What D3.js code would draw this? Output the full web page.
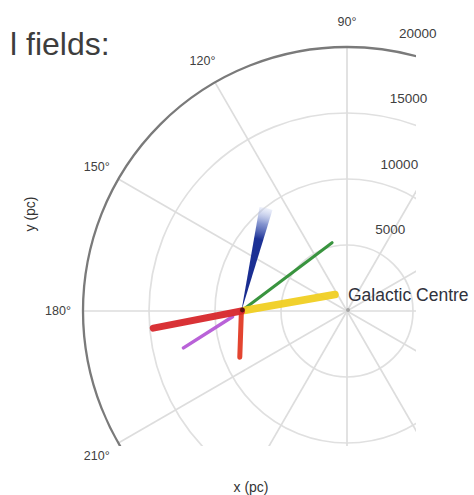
<!DOCTYPE html>
<html>
<head>
<meta charset="utf-8">
<script src="https://cdn.jsdelivr.net/npm/d3@7"></script>
<style>
  body { margin: 0; background: #fff; }
  svg { display: block; }
  text { font-family: "Liberation Sans", Arial, sans-serif; }
</style>
</head>
<body>
<svg id="chart" width="474" height="495"></svg>
<script>
// ---- data -------------------------------------------------------------
// galactocentric polar grid (degrees, parsec)
const angleTicks  = [0, 30, 60, 90, 120, 150, 180, 210, 240, 270, 300, 330];
const angleLabels = [90, 120, 150, 180, 210];
const radiusTicks = [5000, 10000, 15000, 20000];
const radiusMax   = 20000;
const sunX        = -8000;            // Sun position on the x axis (pc)

// lines of sight, measured from the Sun
const fieldIds       = ["F1", "F2", "F3", "F4", "F5", "F6"];
const fieldLongitude = [10, 37, 212.5, 268, 191, 76.5];     // deg
const fieldNear      = [200, 0, 800, 0, 0, 0];              // pc
const fieldFar       = [7200, 8600, 5200, 3500, 6800, 8000]; // pc
const fieldSpread    = [0, 0, 0, 0, 0, 3.6];                // half-width, deg

// ---- styles -----------------------------------------------------------
const fieldColor  = ["#f1cf22", "#2f8f35", "#b65ad6", "#e23b25", "#d8282c", "#172a8e"];
const fieldStroke = [7.5, 3, 3.5, 5, 7, 0];

// ---- layout -----------------------------------------------------------
const cx = 347, cy = 311;
const r = d3.scaleLinear().domain([0, radiusMax]).range([0, 264]);
const rad = d => d * Math.PI / 180;
const polar = (deg, pc) => [cx + r(pc) * Math.cos(rad(deg)), cy - r(pc) * Math.sin(rad(deg))];
const sunPx = [cx + r(sunX), cy];
const fromSun = (deg, pc) => [sunPx[0] + r(pc) * Math.cos(rad(deg)), sunPx[1] - r(pc) * Math.sin(rad(deg))];

const svg = d3.select("#chart");
const defs = svg.append("defs");
defs.append("clipPath").attr("id", "plotClip")
  .append("rect").attr("x", 0).attr("y", 0).attr("width", 416).attr("height", 446);

const plot = svg.append("g").attr("clip-path", "url(#plotClip)");

// grid circles
plot.selectAll("circle.grid")
  .data(radiusTicks.filter(d => d < radiusMax))
  .join("circle")
  .attr("class", "grid")
  .attr("cx", cx).attr("cy", cy)
  .attr("r", d => r(d))
  .attr("fill", "none")
  .attr("stroke", "#e0e0e0")
  .attr("stroke-width", 1.7);

// radial spokes
plot.selectAll("line.spoke")
  .data(angleTicks)
  .join("line")
  .attr("class", "spoke")
  .attr("x1", cx).attr("y1", cy)
  .attr("x2", d => polar(d, radiusMax)[0])
  .attr("y2", d => polar(d, radiusMax)[1])
  .attr("stroke", "#dddddd")
  .attr("stroke-width", 1.7);

// outer frame
plot.append("circle")
  .attr("cx", cx).attr("cy", cy).attr("r", r(radiusMax))
  .attr("fill", "none")
  .attr("stroke", "#7a7a7a")
  .attr("stroke-width", 2.3);

// galactic centre marker
plot.append("circle")
  .attr("cx", cx + 1).attr("cy", cy - 1).attr("r", 2)
  .attr("fill", "#a5a5a5");

// fields drawn as lines (the spread one as a fading wedge)
const lineFields = d3.range(fieldIds.length).filter(i => fieldSpread[i] === 0);
const order = [1, 0, 2, 3, 4];
plot.selectAll("line.field")
  .data(order.filter(i => lineFields.includes(i)))
  .join("line")
  .attr("class", "field")
  .attr("x1", i => fromSun(fieldLongitude[i], fieldNear[i])[0])
  .attr("y1", i => fromSun(fieldLongitude[i], fieldNear[i])[1])
  .attr("x2", i => fromSun(fieldLongitude[i], fieldFar[i])[0])
  .attr("y2", i => fromSun(fieldLongitude[i], fieldFar[i])[1])
  .attr("stroke", i => fieldColor[i])
  .attr("stroke-width", i => fieldStroke[i])
  .attr("stroke-linecap", "round")
  .attr("opacity", 0.95);

const wedgeFields = d3.range(fieldIds.length).filter(i => fieldSpread[i] > 0);
wedgeFields.forEach(i => {
  const end = fromSun(fieldLongitude[i], fieldFar[i]);
  const g = defs.append("linearGradient")
    .attr("id", "grad" + fieldIds[i])
    .attr("gradientUnits", "userSpaceOnUse")
    .attr("x1", sunPx[0]).attr("y1", sunPx[1])
    .attr("x2", end[0]).attr("y2", end[1]);
  g.append("stop").attr("offset", 0).attr("stop-color", fieldColor[i]);
  g.append("stop").attr("offset", 0.7).attr("stop-color", "#1d3296");
  g.append("stop").attr("offset", 0.85).attr("stop-color", "#5d72c0").attr("stop-opacity", 0.75);
  g.append("stop").attr("offset", 1).attr("stop-color", "#c9d3f2").attr("stop-opacity", 0.35);

  const a = fromSun(fieldLongitude[i] + fieldSpread[i], fieldFar[i]);
  const b = fromSun(fieldLongitude[i] - fieldSpread[i], fieldFar[i]);
  const tip = fromSun(fieldLongitude[i], fieldFar[i] * 1.01);
  plot.append("path")
    .attr("d", `M${sunPx[0]},${sunPx[1]} L${a[0]},${a[1]} Q${tip[0]},${tip[1]} ${b[0]},${b[1]} Z`)
    .attr("fill", `url(#grad${fieldIds[i]})`);
});

// the Sun
plot.append("circle")
  .attr("cx", sunPx[0] + 1).attr("cy", sunPx[1] - 1).attr("r", 2.4)
  .attr("fill", "#5a1414");

// ---- labels -----------------------------------------------------------
// angle labels
svg.selectAll("text.angle")
  .data(angleLabels)
  .join("text")
  .attr("class", "angle")
  .attr("x", d => cx + 289 * Math.cos(rad(d)))
  .attr("y", d => cy - 289 * Math.sin(rad(d)))
  .attr("text-anchor", "middle")
  .attr("dominant-baseline", "central")
  .attr("font-size", 12.5)
  .attr("fill", "#404040")
  .text(d => d + "°");

// radius labels
const rLabelAngle = 82;
svg.selectAll("text.rlabel")
  .data(radiusTicks)
  .join("text")
  .attr("class", "rlabel")
  .attr("x", d => polar(rLabelAngle, d)[0] + 34)
  .attr("y", d => polar(rLabelAngle, d)[1] - 16)
  .attr("text-anchor", "middle")
  .attr("dominant-baseline", "central")
  .attr("font-size", 13.5)
  .attr("fill", "#404040")
  .text(d => d);

svg.append("text")
  .attr("x", cx + 1).attr("y", cy - 10)
  .attr("font-family", "'Open Sans', sans-serif")
  .attr("font-size", 17.5)
  .attr("fill", "#30323c")
  .text("Galactic Centre");

svg.append("text")
  .attr("x", 251).attr("y", 487)
  .attr("text-anchor", "middle")
  .attr("dominant-baseline", "central")
  .attr("font-size", 14)
  .attr("fill", "#333")
  .text("x (pc)");

svg.append("text")
  .attr("transform", "translate(30,214) rotate(-90)")
  .attr("text-anchor", "middle")
  .attr("dominant-baseline", "central")
  .attr("font-size", 14)
  .attr("fill", "#333")
  .text("y (pc)");

// heading fragment
svg.append("text")
  .attr("x", 10).attr("y", 55)
  .attr("font-family", "'Open Sans', sans-serif")
  .attr("font-size", 32)
  .attr("fill", "#3d3d3d")
  .text("l fields:");
</script>
</body>
</html>
